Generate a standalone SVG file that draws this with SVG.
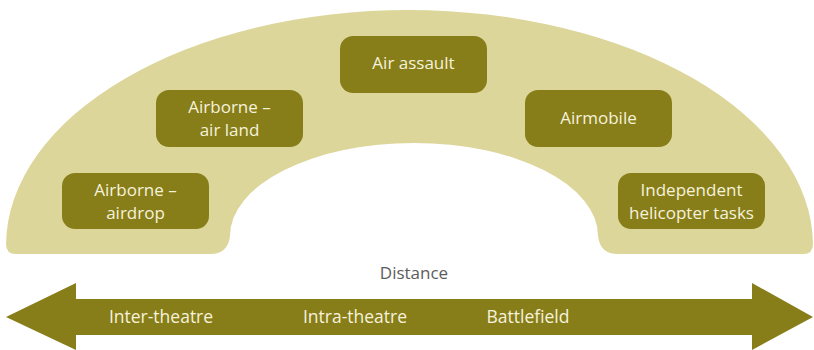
<svg xmlns="http://www.w3.org/2000/svg" width="814" height="350" viewBox="0 0 814 350">
<style>
.bg{fill:#ddd69b}
.box{fill:#877e19}
.t{font-family:"Open Sans","Liberation Sans",sans-serif;font-size:17px;fill:#f6f2dc;text-anchor:middle}
.a{font-family:"Open Sans","Liberation Sans",sans-serif;font-size:17.5px;fill:#f6f2dc;text-anchor:middle}
.d{font-family:"Open Sans","Liberation Sans",sans-serif;font-size:17px;fill:#5d5d5d;text-anchor:middle}
.arrow{fill:#877e19}
</style>
<rect width="814" height="350" fill="#ffffff"/>
<g id="band">
<path class="bg" d="M 16 254 Q 6 254 6 244 A 403 236 0 0 1 409 10 A 405 236 0 0 1 813 244 Q 813 254 803 254 L 618 254 Q 600 254 598 236 A 184 93 0 0 0 230 236 Q 228 254 210 254 Z"/>
</g>
<g id="connectors">
<path class="arrow" d="M 6 317 L 76 283 L 76 299 L 752 299 L 752 283 L 813 317 L 752 350 L 752 335 L 76 335 L 76 350 Z"/>
</g>
<g id="distance"><text class="d" x="414" y="279">Distance</text></g>
<g id="label-inter"><text class="a" x="161" y="323">Inter-theatre</text></g>
<g id="label-intra"><text class="a" x="355" y="323">Intra-theatre</text></g>
<g id="label-battle"><text class="a" x="528" y="323">Battlefield</text></g>
<g id="node-airdrop">
<rect class="box" x="62" y="173" width="147" height="56" rx="13"/>
<text class="t" x="135.5" y="196">Airborne –</text>
<text class="t" x="135.5" y="219">airdrop</text>
</g>
<g id="node-airland">
<rect class="box" x="156" y="90" width="147" height="57" rx="13"/>
<text class="t" x="229.5" y="113">Airborne –</text>
<text class="t" x="229.5" y="136">air land</text>
</g>
<g id="node-airassault">
<rect class="box" x="340" y="36" width="147" height="57" rx="13"/>
<text class="t" x="413.5" y="69">Air assault</text>
</g>
<g id="node-airmobile">
<rect class="box" x="525" y="90" width="147" height="57" rx="13"/>
<text class="t" x="598.5" y="124">Airmobile</text>
</g>
<g id="node-heli">
<rect class="box" x="618" y="173" width="147" height="56" rx="13"/>
<text class="t" x="691.5" y="196">Independent</text>
<text class="t" x="691.5" y="219">helicopter tasks</text>
</g>
</svg>
